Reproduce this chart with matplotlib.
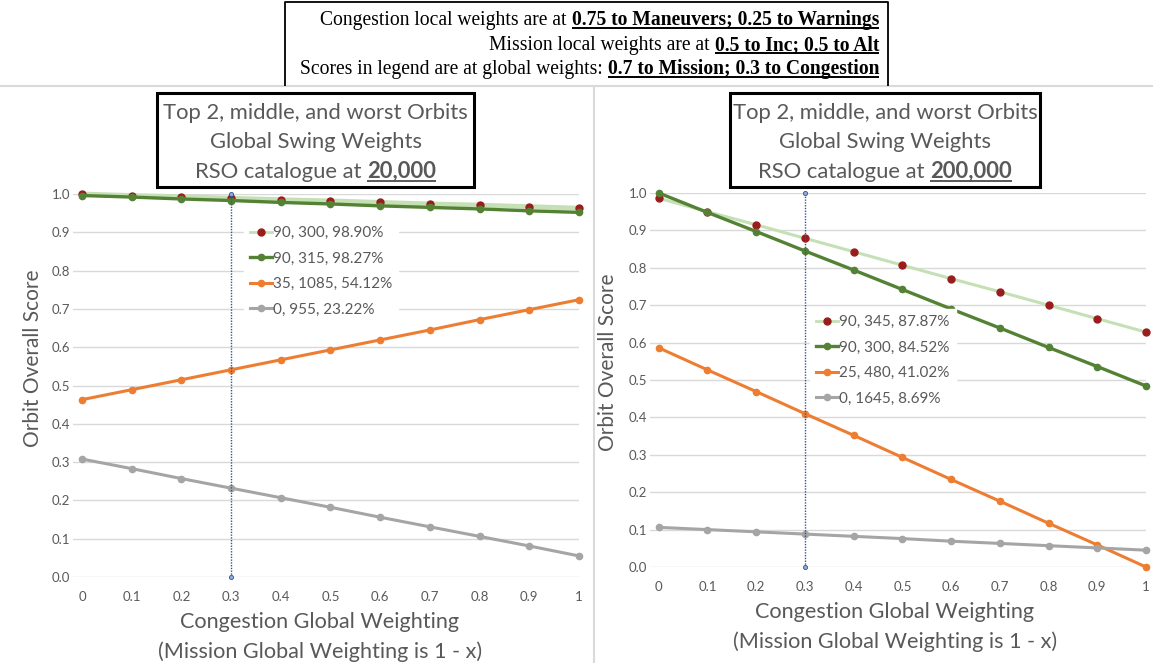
import matplotlib
matplotlib.use("Agg")
import matplotlib.pyplot as plt
from matplotlib.lines import Line2D
from matplotlib.patches import Rectangle

# ---------------- data ----------------
x_weights = [0, 0.1, 0.2, 0.3, 0.4, 0.5, 0.6, 0.7, 0.8, 0.9, 1]
x_ticklabels = ["0", "0.1", "0.2", "0.3", "0.4", "0.5", "0.6", "0.7", "0.8", "0.9", "1"]
y_ticks = [0.0, 0.1, 0.2, 0.3, 0.4, 0.5, 0.6, 0.7, 0.8, 0.9, 1.0]

left_labels = ["90, 300, 98.90%", "90, 315, 98.27%", "35, 1085, 54.12%", "0, 955, 23.22%"]
left_s1 = [1.000, 0.996, 0.993, 0.989, 0.985, 0.982, 0.978, 0.974, 0.971, 0.967, 0.963]
left_s2 = [0.996, 0.992, 0.987, 0.983, 0.978, 0.974, 0.969, 0.965, 0.961, 0.956, 0.952]
left_s3 = [0.463, 0.489, 0.515, 0.541, 0.567, 0.593, 0.619, 0.645, 0.672, 0.698, 0.724]
left_s4 = [0.308, 0.283, 0.257, 0.232, 0.207, 0.182, 0.156, 0.131, 0.106, 0.081, 0.055]

right_labels = ["90, 345, 87.87%", "90, 300, 84.52%", "25, 480, 41.02%", "0, 1645, 8.69%"]
right_s1 = [0.986, 0.950, 0.915, 0.879, 0.843, 0.807, 0.771, 0.736, 0.700, 0.664, 0.628]
right_s2 = [1.000, 0.948, 0.897, 0.845, 0.794, 0.742, 0.690, 0.639, 0.587, 0.536, 0.484]
right_s3 = [0.586, 0.527, 0.469, 0.410, 0.352, 0.293, 0.234, 0.176, 0.117, 0.059, 0.000]
right_s4 = [0.106, 0.100, 0.094, 0.088, 0.082, 0.076, 0.069, 0.063, 0.057, 0.051, 0.045]

marker_x = 0.3
catalogues = ["20,000", "200,000"]

# ---------------- style ----------------
W, H = 1153, 663
SANS = "Lato"
SERIF = "Liberation Serif"
GRAY_TXT = "#595959"
GRID = "#d9d9d9"
LIGHT_GREEN = "#c5e0b4"
DARK_RED = "#9b1c1c"
DARK_GREEN = "#548235"
ORANGE = "#ed7d31"
GRAY = "#a5a5a5"

fig = plt.figure(figsize=(W / 100, H / 100), dpi=100)
fig.patch.set_facecolor("white")
renderer = fig.canvas.get_renderer()


def fx(px):
    return px / W


def fy(py):
    return 1 - py / H


def fline(xs, ys, color, lw, zorder=2):
    fig.add_artist(Line2D([fx(v) for v in xs], [fy(v) for v in ys],
                          transform=fig.transFigure, color=color, lw=lw,
                          solid_capstyle="butt", zorder=zorder))


def measure(text, **kw):
    t = fig.text(0, 0, text, **kw)
    w = t.get_window_extent(renderer=renderer).width
    t.remove()
    return w


def rich_line(segments, x_px, y_px, align, size, family, color, ul_off=3, ul_lw=1.2, zorder=3):
    """segments: list of (text, bold, underline)"""
    space = measure("x x", fontsize=size, family=family) - measure("xx", fontsize=size, family=family)
    widths = []
    for txt, bold, ul in segments:
        widths.append(measure(txt, fontsize=size, family=family,
                              fontweight="bold" if bold else "normal"))
    total = sum(widths) + space * (len(segments) - 1)
    if align == "right":
        start = x_px - total
    else:
        start = x_px - total / 2
    cur = start
    for (txt, bold, ul), w in zip(segments, widths):
        fig.text(fx(cur), fy(y_px), txt, fontsize=size, family=family,
                 fontweight="bold" if bold else "normal", color=color,
                 ha="left", va="baseline", zorder=zorder)
        if ul:
            fline([cur, cur + w], [y_px + ul_off, y_px + ul_off], color, ul_lw, zorder=zorder)
        cur += w + space


# ---------------- frame lines ----------------
fline([0, W], [86, 86], GRID, 1.5)
fline([594, 594], [86, H], GRID, 1.5)

# top annotation box
fline([285, 285, 888, 888], [86, 2, 2, 86], "black", 1.3)
TOP_FS = 14.1
rich_line([("Congestion local weights are at", False, False),
           ("0.75 to Maneuvers; 0.25 to Warnings", True, True)],
          879, 25, "right", TOP_FS, SERIF, "black", ul_off=3, ul_lw=1.4)
rich_line([("Mission local weights are at", False, False),
           ("0.5 to Inc; 0.5 to Alt", True, True)],
          879, 50, "right", TOP_FS, SERIF, "black", ul_off=3, ul_lw=1.4)
rich_line([("Scores in legend are at global weights:", False, False),
           ("0.7 to Mission; 0.3 to Congestion", True, True)],
          879, 74, "right", TOP_FS, SERIF, "black", ul_off=3, ul_lw=1.4)

# ---------------- axes ----------------
panels = [
    dict(box=(73, 579, 194, 577), series=(left_s1, left_s2, left_s3, left_s4),
         labels=left_labels, title_box=(157, 474, 93, 187), cat=catalogues[0],
         legend_anchor=(244, 220), ylab=(33, 358), xlab=(320, 628, 658), s1_lw=3.5),
    dict(box=(650, 1146, 193, 567), series=(right_s1, right_s2, right_s3, right_s4),
         labels=right_labels, title_box=(730, 1040, 93, 187), cat=catalogues[1],
         legend_anchor=(810, 309), ylab=(608, 362), xlab=(895, 618, 648), s1_lw=2.2),
]

for p in panels:
    x0, x1, ytop, ybot = p["box"]
    ax = fig.add_axes([fx(x0), fy(ybot), (x1 - x0) / W, (ybot - ytop) / H])
    ax.set_xlim(-0.018, 1.0)
    ax.set_ylim(0, 1.0)
    for s in ax.spines.values():
        s.set_visible(False)
    ax.set_yticks(y_ticks)
    ax.set_yticklabels([f"{v:.1f}" for v in y_ticks])
    ax.set_xticks(x_weights)
    ax.set_xticklabels(x_ticklabels)
    ax.tick_params(length=0, labelsize=9.5, labelcolor=GRAY_TXT)
    ax.tick_params(axis="x", pad=10)
    ax.tick_params(axis="y", pad=2)
    ax.grid(axis="y", color=GRID, lw=1)
    ax.set_axisbelow(True)

    s1, s2, s3, s4 = p["series"]
    lab = p["labels"]
    ax.plot(x_weights, s1, color=LIGHT_GREEN, lw=p["s1_lw"], marker="o", ms=5,
            mfc=DARK_RED, mec=DARK_RED, clip_on=False, zorder=3)
    ax.plot(x_weights, s2, color=DARK_GREEN, lw=2.4, marker="o", ms=4.5,
            clip_on=False, zorder=4)
    ax.plot(x_weights, s3, color=ORANGE, lw=2.2, marker="o", ms=4.5,
            clip_on=False, zorder=4)
    ax.plot(x_weights, s4, color=GRAY, lw=2.2, marker="o", ms=4.5,
            clip_on=False, zorder=4)

    # vertical dotted reference line
    ax.plot([marker_x, marker_x], [0, 1.0], color="#2f5597", lw=1.0, ls=(0, (1, 1)),
            marker="o", ms=3, mfc="#8faadc", mec="#2f5597", mew=0.6, clip_on=False, zorder=5)

    lx, ly = p["legend_anchor"]
    leg_handles = [
        Line2D([], [], color=LIGHT_GREEN, lw=2, marker="o", ms=5, mfc=DARK_RED, mec=DARK_RED),
        Line2D([], [], color=DARK_GREEN, lw=2.4, marker="o", ms=4.5),
        Line2D([], [], color=ORANGE, lw=2.2, marker="o", ms=4.5),
        Line2D([], [], color=GRAY, lw=2.2, marker="o", ms=4.5),
    ]
    leg = ax.legend(handles=leg_handles, labels=lab, loc="upper left",
                    bbox_to_anchor=(fx(lx), fy(ly)), bbox_transform=fig.transFigure,
                    frameon=True, fancybox=False, framealpha=1, edgecolor="white",
                    facecolor="white", fontsize=11, labelcolor=GRAY_TXT,
                    handlelength=1.4, handletextpad=0.1, labelspacing=0.75,
                    borderpad=0.4, borderaxespad=0)
    leg.set_zorder(6)
    for t in leg.get_texts():
        t.set_family(SANS)

    for lbl in ax.get_xticklabels() + ax.get_yticklabels():
        lbl.set_family(SANS)

    ylx, yly = p["ylab"]
    fig.text(fx(ylx), fy(yly), "Orbit Overall Score", fontsize=15, family=SANS,
             color=GRAY_TXT, rotation=90, ha="center", va="center")

    cx, l1, l2 = p["xlab"]
    fig.text(fx(cx), fy(l1), "Congestion Global Weighting", fontsize=15.6,
             family=SANS, color=GRAY_TXT, ha="center", va="baseline")
    fig.text(fx(cx), fy(l2), "(Mission Global Weighting is 1 - x)", fontsize=15.6,
             family=SANS, color=GRAY_TXT, ha="center", va="baseline")

    # title box
    bx0, bx1, by0, by1 = p["title_box"]
    fig.add_artist(Rectangle((fx(bx0), fy(by1)), (bx1 - bx0) / W, (by1 - by0) / H,
                             transform=fig.transFigure, facecolor="white",
                             edgecolor="black", lw=2.2, zorder=7))
    bcx = (bx0 + bx1) / 2
    fig.text(fx(bcx), fy(119), "Top 2, middle, and worst Orbits", fontsize=15.8, family=SANS,
             color=GRAY_TXT, ha="center", va="baseline", zorder=8)
    fig.text(fx(bcx), fy(148), "Global Swing Weights", fontsize=15.8, family=SANS,
             color=GRAY_TXT, ha="center", va="baseline", zorder=8)
    rich_line([("RSO catalogue at", False, False), (p["cat"], True, True)],
              bcx, 178, "center", 15.8, SANS, GRAY_TXT, ul_off=3, ul_lw=1.4, zorder=8)

fig.savefig("out.png", dpi=100, facecolor="white")
